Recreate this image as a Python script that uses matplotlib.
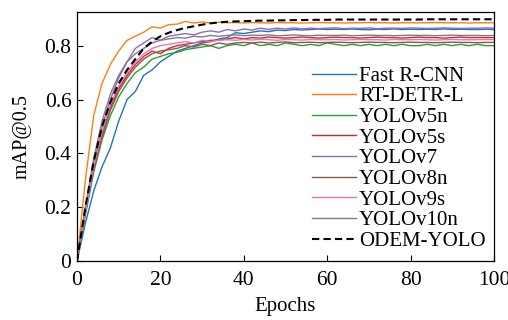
import matplotlib
matplotlib.use("Agg")
import matplotlib.pyplot as plt

plt.rcParams['font.family'] = ['Liberation Serif', 'DejaVu Serif']
plt.rcParams['mathtext.fontset'] = 'stix'

epochs = list(range(0, 101, 2))

fast_rcnn = [0.00, 0.14, 0.26, 0.35, 0.42, 0.52, 0.60, 0.63, 0.69, 0.71,
             0.74, 0.76, 0.78, 0.79, 0.80, 0.81, 0.815, 0.825, 0.83, 0.848,
             0.845, 0.85, 0.855, 0.852, 0.858, 0.856, 0.86, 0.858, 0.86, 0.862,
             0.86, 0.861, 0.86, 0.862, 0.86, 0.859, 0.861, 0.86, 0.862, 0.86,
             0.861, 0.86, 0.861, 0.86, 0.862, 0.86, 0.861, 0.86, 0.86, 0.861,
             0.86]
rt_detr = [0.00, 0.30, 0.54, 0.66, 0.73, 0.78, 0.82, 0.835, 0.85, 0.87,
           0.865, 0.878, 0.88, 0.89, 0.884, 0.888, 0.884, 0.887, 0.885, 0.886,
           0.884, 0.886, 0.885, 0.884, 0.886, 0.885, 0.885, 0.884, 0.885, 0.886,
           0.885, 0.885, 0.884, 0.885, 0.885, 0.886, 0.885, 0.885, 0.884, 0.885,
           0.885, 0.885, 0.885, 0.886, 0.885, 0.885, 0.885, 0.884, 0.885, 0.885,
           0.885]
yolov5n = [0.00, 0.17, 0.33, 0.45, 0.54, 0.61, 0.66, 0.70, 0.72, 0.75,
           0.76, 0.77, 0.775, 0.785, 0.79, 0.795, 0.80, 0.79, 0.80, 0.805,
           0.80, 0.81, 0.80, 0.805, 0.80, 0.81, 0.805, 0.80, 0.805, 0.80,
           0.81, 0.805, 0.80, 0.805, 0.80, 0.805, 0.80, 0.805, 0.80, 0.805,
           0.80, 0.80, 0.805, 0.80, 0.805, 0.80, 0.805, 0.80, 0.805, 0.80,
           0.80]
yolov5s = [0.00, 0.18, 0.34, 0.47, 0.57, 0.64, 0.69, 0.73, 0.76, 0.78,
           0.77, 0.79, 0.80, 0.805, 0.81, 0.815, 0.82, 0.82, 0.825, 0.83,
           0.825, 0.83, 0.828, 0.832, 0.83, 0.828, 0.83, 0.832, 0.83, 0.828,
           0.83, 0.832, 0.83, 0.83, 0.828, 0.83, 0.832, 0.83, 0.83, 0.828,
           0.83, 0.832, 0.83, 0.83, 0.828, 0.83, 0.832, 0.83, 0.83, 0.83,
           0.83]
yolov7 = [0.00, 0.19, 0.36, 0.50, 0.60, 0.68, 0.74, 0.79, 0.81, 0.83,
          0.82, 0.835, 0.84, 0.845, 0.84, 0.85, 0.855, 0.85, 0.86, 0.855,
          0.862, 0.858, 0.865, 0.86, 0.865, 0.862, 0.866, 0.862, 0.865, 0.863,
          0.865, 0.866, 0.863, 0.865, 0.864, 0.866, 0.863, 0.865, 0.865, 0.864,
          0.866, 0.865, 0.864, 0.865, 0.866, 0.865, 0.864, 0.865, 0.865, 0.866,
          0.865]
yolov8n = [0.00, 0.18, 0.34, 0.46, 0.56, 0.63, 0.68, 0.72, 0.75, 0.77,
           0.78, 0.785, 0.79, 0.80, 0.795, 0.805, 0.80, 0.81, 0.805, 0.81,
           0.812, 0.81, 0.813, 0.81, 0.812, 0.814, 0.811, 0.812, 0.813, 0.811,
           0.812, 0.813, 0.812, 0.811, 0.812, 0.813, 0.812, 0.812, 0.811, 0.812,
           0.813, 0.812, 0.812, 0.811, 0.812, 0.813, 0.812, 0.812, 0.811, 0.812,
           0.812]
yolov9s = [0.00, 0.18, 0.35, 0.48, 0.58, 0.65, 0.70, 0.74, 0.77, 0.79,
           0.80, 0.805, 0.81, 0.815, 0.81, 0.82, 0.815, 0.82, 0.822, 0.82,
           0.823, 0.821, 0.824, 0.822, 0.82, 0.823, 0.822, 0.821, 0.823, 0.822,
           0.822, 0.823, 0.821, 0.822, 0.823, 0.822, 0.822, 0.821, 0.823, 0.822,
           0.822, 0.823, 0.822, 0.821, 0.822, 0.823, 0.822, 0.822, 0.822, 0.823,
           0.822]
yolov10n = [0.00, 0.20, 0.38, 0.52, 0.62, 0.69, 0.74, 0.77, 0.79, 0.81,
            0.82, 0.825, 0.83, 0.828, 0.835, 0.832, 0.838, 0.835, 0.838, 0.84,
            0.837, 0.839, 0.838, 0.84, 0.837, 0.838, 0.84, 0.838, 0.837, 0.839,
            0.838, 0.838, 0.839, 0.837, 0.838, 0.839, 0.838, 0.838, 0.837, 0.838,
            0.839, 0.838, 0.838, 0.837, 0.838, 0.839, 0.838, 0.838, 0.838, 0.837,
            0.838]
odem_yolo = [0.000, 0.200, 0.370, 0.500, 0.590, 0.660, 0.710, 0.750, 0.790, 0.815,
             0.835, 0.848, 0.858, 0.866, 0.872, 0.878, 0.883, 0.886, 0.889, 0.890,
             0.891, 0.892, 0.893, 0.893, 0.894, 0.894, 0.895, 0.895, 0.896, 0.896,
             0.896, 0.897, 0.897, 0.897, 0.897, 0.897, 0.897, 0.897, 0.897, 0.897,
             0.897, 0.897, 0.898, 0.898, 0.898, 0.898, 0.898, 0.898, 0.898, 0.898,
             0.898]

labels = ["Fast R-CNN", "RT-DETR-L", "YOLOv5n", "YOLOv5s", "YOLOv7",
          "YOLOv8n", "YOLOv9s", "YOLOv10n", "ODEM-YOLO"]
series = [fast_rcnn, rt_detr, yolov5n, yolov5s, yolov7, yolov8n, yolov9s, yolov10n, odem_yolo]
colors = ["#1f77b4", "#ff7f0e", "#2ca02c", "#d62728", "#9467bd",
          "#8c564b", "#e377c2", "#7f7f7f", "black"]

fig = plt.figure(figsize=(5.08, 3.2), dpi=100)
ax = fig.add_axes([77 / 508, 0.184, 417 / 508, 0.7785])

for lab, ys, c in zip(labels, series, colors):
    if lab == "ODEM-YOLO":
        ax.plot(epochs, ys, color=c, lw=1.5, ls=(0, (3.5, 2)), label=lab, zorder=5)
    else:
        ax.plot(epochs, ys, color=c, lw=1.0, label=lab)

ax.set_xlim(0, 100)
ax.set_ylim(0, 0.925)
ax.set_xticks([0, 20, 40, 60, 80, 100])
ax.set_yticks([0, 0.2, 0.4, 0.6, 0.8])
ax.set_yticklabels(["0", "0.2", "0.4", "0.6", "0.8"])
ax.tick_params(direction='in', labelsize=15.5, length=4, width=0.8)
ax.tick_params(axis='x', pad=7)
ax.tick_params(axis='y', pad=4)
ax.set_xlabel("Epochs", fontsize=15, labelpad=5)
ax.set_ylabel("mAP@0.5", fontsize=14.5, labelpad=9)
for s in ax.spines.values():
    s.set_linewidth(0.9)

ax.legend(loc='lower right', frameon=False, fontsize=15, labelspacing=0.05,
          handlelength=2.1, handletextpad=0.15, borderaxespad=0.0,
          bbox_to_anchor=(1.0, 0.008))

fig.savefig("out.png", dpi=100)
